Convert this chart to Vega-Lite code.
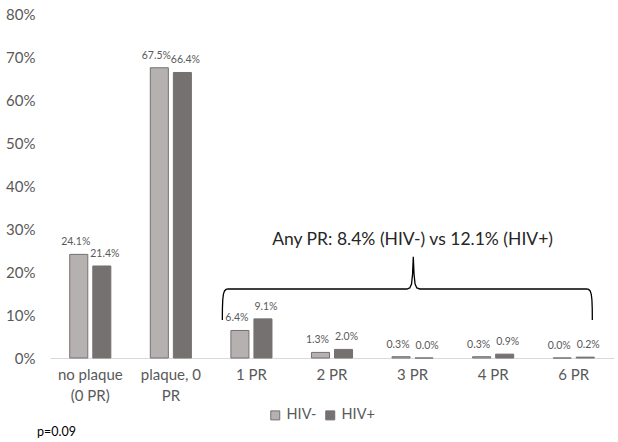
{
  "$schema": "https://vega.github.io/schema/vega-lite/v6.json",
  "autosize": {"type": "none"},
  "width": 564,
  "height": 344,
  "padding": {"left": 50, "top": 14, "right": 4, "bottom": 84},
  "background": "white",
  "config": {
    "view": {"stroke": null},
    "font": "Lato",
    "axis": {"grid": false, "ticks": false, "labelFont": "Lato", "labelColor": "#595959", "title": null}
  },
  "datasets": {
    "bars": [
      {"cat": "no plaque (0 PR)", "grp": "HIV-", "v": 0.241},
      {"cat": "no plaque (0 PR)", "grp": "HIV+", "v": 0.214},
      {"cat": "plaque, 0 PR", "grp": "HIV-", "v": 0.675},
      {"cat": "plaque, 0 PR", "grp": "HIV+", "v": 0.664},
      {"cat": "1 PR", "grp": "HIV-", "v": 0.064},
      {"cat": "1 PR", "grp": "HIV+", "v": 0.091},
      {"cat": "2 PR", "grp": "HIV-", "v": 0.013},
      {"cat": "2 PR", "grp": "HIV+", "v": 0.020},
      {"cat": "3 PR", "grp": "HIV-", "v": 0.003},
      {"cat": "3 PR", "grp": "HIV+", "v": 0.000},
      {"cat": "4 PR", "grp": "HIV-", "v": 0.003},
      {"cat": "4 PR", "grp": "HIV+", "v": 0.009},
      {"cat": "6 PR", "grp": "HIV-", "v": 0.000},
      {"cat": "6 PR", "grp": "HIV+", "v": 0.002}
    ],
    "brace": [
      {"i": 0, "x": 2.139, "v": 0.0884},
      {"i": 1, "x": 2.140, "v": 0.115},
      {"i": 2, "x": 2.144, "v": 0.135},
      {"i": 3, "x": 2.152, "v": 0.148},
      {"i": 4, "x": 2.166, "v": 0.156},
      {"i": 5, "x": 2.185, "v": 0.1595},
      {"i": 6, "x": 2.21, "v": 0.1605},
      {"i": 7, "x": 4.43, "v": 0.1605},
      {"i": 8, "x": 4.465, "v": 0.163},
      {"i": 9, "x": 4.487, "v": 0.172},
      {"i": 10, "x": 4.500, "v": 0.195},
      {"i": 11, "x": 4.509, "v": 0.2356},
      {"i": 12, "x": 4.518, "v": 0.195},
      {"i": 13, "x": 4.531, "v": 0.172},
      {"i": 14, "x": 4.553, "v": 0.163},
      {"i": 15, "x": 4.59, "v": 0.1605},
      {"i": 16, "x": 6.66, "v": 0.1605},
      {"i": 17, "x": 6.685, "v": 0.1595},
      {"i": 18, "x": 6.704, "v": 0.156},
      {"i": 19, "x": 6.718, "v": 0.148},
      {"i": 20, "x": 6.726, "v": 0.135},
      {"i": 21, "x": 6.730, "v": 0.115},
      {"i": 22, "x": 6.731, "v": 0.0884}
    ],
    "notes": [
      {"x": 4.5, "v": 0.2744, "t": "Any PR: 8.4% (HIV-) vs 12.1% (HIV+)"}
    ],
    "pnote": [
      {"x": -0.161, "v": -0.172, "t": "p=0.09"}
    ]
  },
  "encoding": {
    "y": {
      "field": "v", "type": "quantitative",
      "scale": {"domain": [0, 0.8], "nice": false},
      "axis": {"values": [0, 0.1, 0.2, 0.3, 0.4, 0.5, 0.6, 0.7, 0.8], "format": ".0%", "domain": false, "labelFontSize": 15, "labelPadding": 15}
    }
  },
  "layer": [
    {
      "data": {"name": "bars"},
      "encoding": {
        "x": {
          "field": "cat", "type": "nominal",
          "sort": ["no plaque (0 PR)", "plaque, 0 PR", "1 PR", "2 PR", "3 PR", "4 PR", "6 PR"],
          "scale": {"paddingInner": 0.49, "paddingOuter": 0.245},
          "axis": {
            "labelAngle": 0, "labelFontSize": 15, "labelPadding": 9, "labelLineHeight": 21,
            "domainColor": "#d9d9d9", "domainWidth": 1,
            "labelExpr": "datum.value == 'no plaque (0 PR)' ? ['no plaque', '(0 PR)'] : datum.value == 'plaque, 0 PR' ? ['plaque, 0', 'PR'] : datum.value"
          }
        },
        "xOffset": {"field": "grp", "type": "nominal", "sort": ["HIV-", "HIV+"], "scale": {"paddingInner": 0.217}}
      },
      "layer": [
        {
          "mark": {"type": "bar", "strokeWidth": 1},
          "encoding": {
            "fill": {
              "field": "grp", "type": "nominal", "sort": ["HIV-", "HIV+"],
              "scale": {"domain": ["HIV-", "HIV+"], "range": ["#b5b1b0", "#767171"]},
              "legend": {
                "title": null, "orient": "none", "legendX": 218, "legendY": 394, "direction": "horizontal",
                "symbolType": "square", "symbolSize": 81, "symbolStrokeColor": "#767171", "symbolStrokeWidth": 1,
                "labelFontSize": 14.5, "labelColor": "#595959", "labelFont": "Lato", "labelOffset": 4, "columnPadding": 6, "padding": 0
              }
            },
            "stroke": {"value": "#767171"}
          }
        },
        {
          "transform": [{"filter": "datum.grp == 'HIV-'"}],
          "mark": {"type": "text", "dy": -7, "dx": -3, "fontSize": 10.5, "color": "#595959", "baseline": "bottom"},
          "encoding": {"text": {"field": "v", "type": "quantitative", "format": ".1%"}}
        },
        {
          "transform": [{"filter": "datum.grp == 'HIV+'"}],
          "mark": {"type": "text", "dy": -7, "dx": 3, "fontSize": 10.5, "color": "#595959", "baseline": "bottom"},
          "encoding": {"text": {"field": "v", "type": "quantitative", "format": ".1%"}}
        }
      ]
    },
    {
      "layer": [
        {
          "data": {"name": "brace"},
          "mark": {"type": "line", "color": "#000000", "strokeWidth": 1.3, "interpolate": "linear"},
          "encoding": {
            "x": {"field": "x", "type": "quantitative", "scale": {"domain": [0, 7], "nice": false, "zero": false}, "axis": null},
            "order": {"field": "i", "type": "quantitative"}
          }
        },
        {
          "data": {"name": "notes"},
          "mark": {"type": "text", "fontSize": 17.5, "color": "#262626", "align": "center", "baseline": "middle"},
          "encoding": {
            "x": {"field": "x", "type": "quantitative", "scale": {"domain": [0, 7], "nice": false, "zero": false}, "axis": null},
            "text": {"field": "t"}
          }
        },
        {
          "data": {"name": "pnote"},
          "mark": {"type": "text", "fontSize": 12.5, "color": "#000000", "align": "left", "baseline": "middle"},
          "encoding": {
            "x": {"field": "x", "type": "quantitative", "scale": {"domain": [0, 7], "nice": false, "zero": false}, "axis": null},
            "text": {"field": "t"}
          }
        }
      ]
    }
  ],
  "resolve": {"scale": {"x": "independent"}}
}
